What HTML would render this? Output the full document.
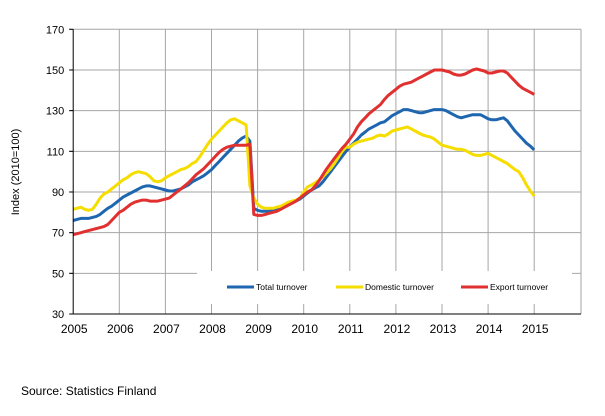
<!DOCTYPE html>
<html><head><meta charset="utf-8"><style>
body{margin:0;background:#fff;}
svg{display:block;font-family:"Liberation Sans",Arial,sans-serif;}
</style></head><body>
<svg id="chart" width="605" height="416" xmlns="http://www.w3.org/2000/svg">
<g id="grid"></g>
<g id="series"></g>
<g id="axes"></g>
<text transform="translate(19,172) rotate(-90)" text-anchor="middle" font-size="11" fill="#000">Index (2010=100)</text>
<text x="21" y="395" font-size="12" fill="#000">Source:  Statistics Finland</text>
</svg>
<script>
const years = ["2005","2006","2007","2008","2009","2010","2011","2012","2013","2014","2015"];
const yTicks = [30,50,70,90,110,130,150,170];
const seriesNames = ["Total turnover","Domestic turnover","Export turnover"];
const total = [
76,76.5,77,77,77,77.5,78,79,80.5,82,83,84.5,
86,87.5,88.5,89.5,90.5,91.5,92.5,93,93,92.5,92,91.5,
91,90.5,90.5,91,91.5,92.5,93.5,95,96,97,98,99.5,
101,103,105,107,109,111,113,115,116.5,117.5,115,82,
81,80.5,80.5,80.5,81,81.5,82,83,84,85,85.5,86.5,
88,89.5,91,92,93,95,97.5,100,102.5,105,107.5,110,
112,114,116,118,119.5,121,122,123,124,124.5,126,127.5,
128.5,129.5,130.5,130.5,130,129.5,129,129,129.5,130,130.5,130.5,
130.5,130,129,128,127,126.5,127,127.5,128,128,128,127,
126,125.5,125.5,126,126.5,125,122.5,120,118,116,114,112.5,
110.7];
const domestic = [
81.5,82,82.5,81.5,81,81.5,84,87,89,90,91.5,93,
94.5,96,97,98.5,99.5,100,99.5,99,97.5,95.5,95,95.5,
97,98,99,100,101,101.5,102.5,104,105,107.5,110.5,113.5,
116,118,120,122,124,125.5,126,125,124,123,93,87,
84,82.5,82,82,82,82.5,83,84,85,85.5,86,87,
90,92.5,93.5,94.5,96,97.5,99.5,101.5,104,107,110,112,
112,113.5,114.5,115,115.5,116,116.5,117.5,118,117.5,118.5,120,
120.5,121,121.5,122,121,120,119,118,117.5,117,116,114.5,
113,112.5,112,111.5,111,111,110.5,109.5,108.5,108,108,108.5,
109,108,107,106,105,104,102.5,101,100,97,93.5,90.5,
88];
const exportT = [
69,69.5,70,70.5,71,71.5,72,72.5,73,74,76,78,
80,81,82.5,84,85,85.5,86,86,85.5,85.5,85.5,86,
86.5,87,88.5,90,91.5,93,94.5,96.5,98.5,100,101.5,103.5,
105.5,107.5,109.5,111,112,112.5,113,113,113,113,113.5,79,
78.5,78.5,79,79.5,80,80.5,81.5,82.5,83.5,84.5,85.5,87,
88.5,90,91,93,95.5,98.5,101.5,104,106.5,109,111.5,113.5,
116,118.5,122,124.5,126.5,128.5,130,131.5,133,135.5,137.5,139,
140.5,142,143,143.5,144,145,146,147,148,149,150,150,
150,149.5,149,148,147.5,147.5,148,149,150,150.5,150,149.5,
148.5,148.5,149,149.5,149.5,148.5,146.5,144.5,142.5,141,140,139,
138];
const colors = ["#1f66b0","#f5dd00","#e03030"];

const NS="http://www.w3.org/2000/svg";
const L=73.2,R=581,T=29.3,B=314,YW=46.1;
const xm = i => L + i/12*YW;
const yv = v => B - (v-30)*(B-T)/140;
function mk(tag,attrs,parent){const e=document.createElementNS(NS,tag);for(const k in attrs)e.setAttribute(k,attrs[k]);parent.appendChild(e);return e;}
const grid=document.getElementById('grid'),axes=document.getElementById('axes'),ser=document.getElementById('series');
yTicks.forEach(v=>{
  const l=mk('line',{x1:L-4,x2:R,y1:yv(v),y2:yv(v),stroke:v===30?'none':'#a6a6a6','stroke-width':1},grid);
  
  
  const tk=mk('line',{x1:L-4,x2:L,y1:yv(v),y2:yv(v),stroke:'#000'},axes);
  
  
  const t=mk('text',{x:L-9,y:yv(v)+4,'text-anchor':'end','font-size':11},axes);
  t.textContent=v;
  
  
});
years.forEach((y,i)=>{
  const x=L+i*YW;
  if(i>0){const g=mk('line',{x1:x,x2:x,y1:T,y2:B,stroke:'#a6a6a6'},grid);
  
  }
  const t=mk('text',{x:x+1,y:333,'text-anchor':'middle','font-size':12},axes);
  t.textContent=y;
  
  
});
const rb=mk('line',{x1:R,x2:R,y1:T,y2:B,stroke:'#a6a6a6'},grid);


const ax1=mk('line',{x1:L,x2:L,y1:T,y2:B,stroke:'#000'},axes);


const ax2=mk('line',{x1:L,x2:R,y1:B,y2:B,stroke:'#000'},axes);


[total,domestic,exportT].forEach((arr,s)=>{
  const p=mk('polyline',{points:arr.map((v,i)=>xm(i).toFixed(1)+','+yv(v).toFixed(1)).join(' '),fill:'none',stroke:colors[s],'stroke-width':3,'stroke-linejoin':'round'},ser);
  
  
});
// legend
const lg=mk('g',{},ser);


mk('rect',{x:197,y:271,width:375,height:33,fill:'#fff'},lg);
const lx=[227,336,461];
seriesNames.forEach((n,s)=>{
  const e=mk('g',{},lg);
  
  
  mk('line',{x1:lx[s],x2:lx[s]+27,y1:287,y2:287,stroke:colors[s],'stroke-width':3},e);
  const t=mk('text',{x:lx[s]+29,y:290,'font-size':8.5},e);
  t.textContent=n;
});
</script>
</body></html>
